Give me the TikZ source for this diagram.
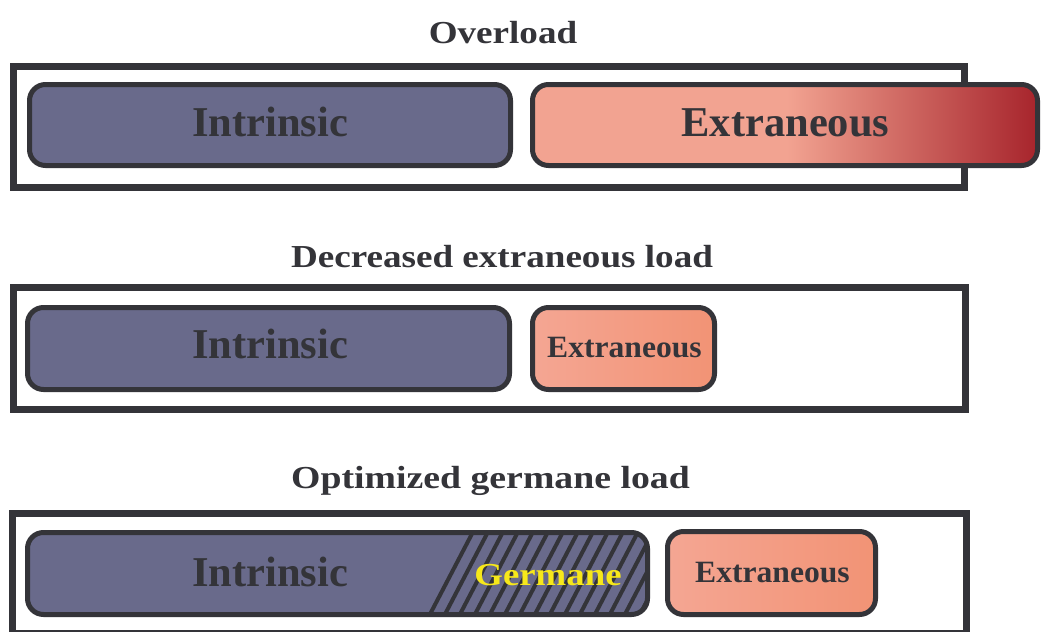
\documentclass[tikz,border=0pt]{standalone}
\usepackage{fontspec}
\usepackage{graphicx}
\setmainfont{Liberation Serif}
\definecolor{ink}{HTML}{343439}
\definecolor{blu}{HTML}{696A8B}
\definecolor{salm}{HTML}{F2A391}
\definecolor{dred}{HTML}{A6232B}
\definecolor{sa}{HTML}{F4A693}
\definecolor{sb}{HTML}{F29375}
\definecolor{germ}{HTML}{F7E81A}
\begin{document}
\begin{tikzpicture}[x=1pt,y=-1pt,
  frame/.style={draw=ink,line width=7pt},
  bar/.style={draw=ink,line width=5pt,rounded corners=16pt},
  txt/.style={text=ink,anchor=base,inner sep=0pt},
  title/.style={txt,font=\fontsize{32}{36}\selectfont\bfseries},
  big/.style={txt,font=\fontsize{42.5}{46}\selectfont\bfseries},
  small/.style={txt,font=\fontsize{31}{34}\selectfont\bfseries}]
\clip (0,0) rectangle (1045,632);
\fill[white] (0,0) rectangle (1045,632);

% ---------- Overload ----------
\node[title] (t1) at (503,43) {\scalebox{1.16}[1]{Overload}};
\draw[frame] (13,66.5) rectangle (964,187);
\draw[bar,fill=blu] (29.5,84.5) rectangle (510.5,165.5);
\fill[salm,rounded corners=16pt] (532.5,84.5) rectangle (1037.5,165.5);
\begin{scope}
  \clip[rounded corners=16pt] (532.5,84.5) rectangle (1037.5,165.5);
  \shade[left color=salm,right color=dred] (787,80) rectangle (1040,170);
\end{scope}
\draw[bar] (532.5,84.5) rectangle (1037.5,165.5);
\node[big] (i1) at (270,136) {Intrinsic};
\node[big] (e1) at (785.5,136) {Extraneous};

% ---------- Decreased extraneous load ----------
\node[title] (t2) at (502,267) {\scalebox{1.16}[1]{Decreased extraneous load}};
\draw[frame] (13,287.5) rectangle (965,409);
\draw[bar,fill=blu] (27.5,307.5) rectangle (509.5,389.5);
\draw[bar,left color=sa,right color=sb] (532.5,307.5) rectangle (714.5,389.5);
\node[big] (i2) at (270,358) {Intrinsic};
\node[small] (e2) at (624.5,357) {\scalebox{1.02}[1]{Extraneous}};

% ---------- Optimized germane load ----------
\node[title] (t3) at (490.5,488) {\scalebox{1.18}[1]{Optimized germane load}};
\draw[frame] (12.5,513) rectangle (966,633.5);
\fill[blu,rounded corners=16pt] (27.5,532.5) rectangle (647.5,614.5);
\begin{scope}
  \clip[rounded corners=16pt] (27.5,532.5) rectangle (647.5,614.5);
  \foreach \i in {0,...,16}
    \draw[ink,line width=4pt] (427+15*\i,620) -- (475+15*\i,528);
\end{scope}
\draw[bar] (27.5,532.5) rectangle (647.5,614.5);
\draw[bar,left color=sa,right color=sb] (667.5,531.5) rectangle (875.5,614.5);
\node[big] (i3) at (270,586) {Intrinsic};
\node[txt,text=germ,font=\fontsize{32}{36}\selectfont\bfseries] (g3) at (548,585) {\scalebox{1.15}[1]{Germane}};
\node[small] (e3) at (772.5,582) {\scalebox{1.02}[1]{Extraneous}};
\end{tikzpicture}
\end{document}
